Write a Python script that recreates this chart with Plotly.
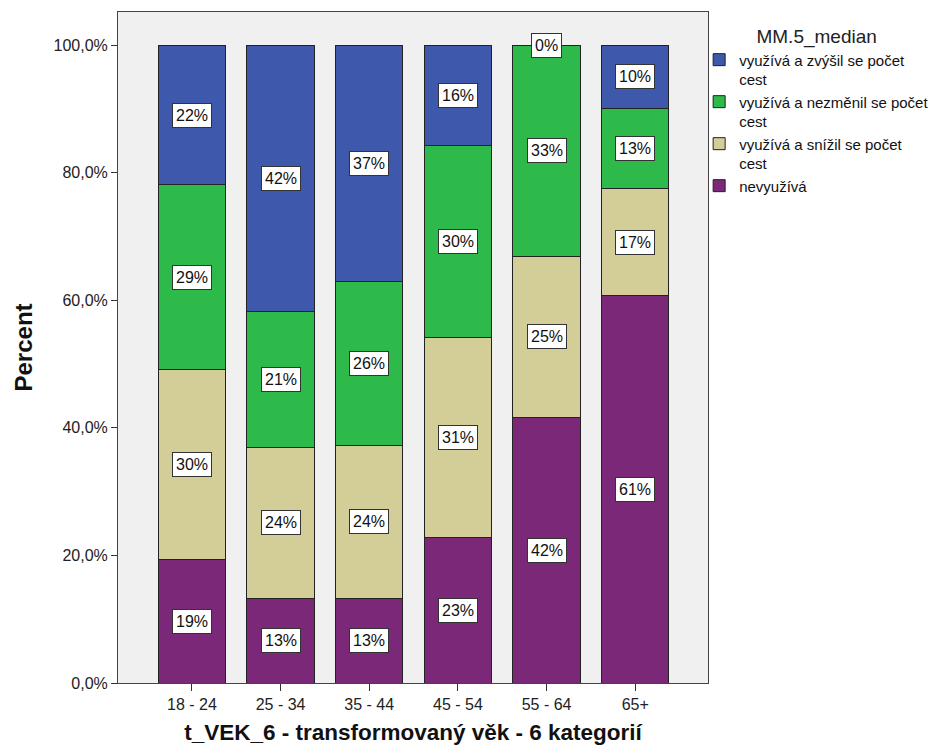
import plotly.graph_objects as go

# Age groups and percentage shares (each bar sums to 100 %)
categories = ["18 - 24", "25 - 34", "35 - 44", "45 - 54", "55 - 64", "65+"]

nevyuziva = [19.4, 13.3, 13.3, 22.8, 41.7, 60.7]
snizil = [29.8, 23.7, 23.9, 31.4, 25.2, 16.8]
nezmenil = [28.9, 21.3, 25.7, 30.1, 33.1, 12.6]
zvysil = [21.9, 41.7, 37.1, 15.7, 0.0, 9.9]

series_names = [
    "nevyužívá",
    "využívá a snížil se počet<br>cest",
    "využívá a nezměnil se počet<br>cest",
    "využívá a zvýšil se počet<br>cest",
]
series_values = [nevyuziva, snizil, nezmenil, zvysil]
series_colors = ["#7B2879", "#D3CE97", "#2EB94B", "#3E58AC"]

y_ticks = [0, 20, 40, 60, 80, 100]
y_ticktext = [f"{t:.1f}".replace(".", ",") + "%" for t in y_ticks]

fig = go.Figure()
for name, vals, col in zip(series_names, series_values, series_colors):
    fig.add_trace(go.Bar(
        x=categories, y=vals, name=name,
        marker=dict(color=col, line=dict(color="#222222", width=1)),
        hoverinfo="skip",
    ))

# Value labels centred on each stacked segment
annotations = []
base = [0.0] * len(categories)
for vals in series_values:
    for i, v in enumerate(vals):
        mid = base[i] + v / 2
        annotations.append(dict(
            x=categories[i], y=mid, xref="x", yref="y",
            text=f"{v:.0f}%", showarrow=False,
            font=dict(family="Arial, Liberation Sans", size=16, color="#111111"),
            bgcolor="white", bordercolor="#333333", borderwidth=1, borderpad=3,
        ))
        base[i] += v

fig.update_layout(
    width=946, height=753,
    margin=dict(l=118, r=233, t=12, b=70),
    paper_bgcolor="white", plot_bgcolor="#F0F0F0",
    barmode="stack", bargap=0.24,
    font=dict(family="Arial, Liberation Sans", size=16, color="#222222"),
    annotations=annotations,
    legend=dict(
        title=dict(text="MM.5_median", side="top center",
                   font=dict(size=19, color="#222222")),
        traceorder="reversed", valign="top",
        x=0.985, xanchor="left", y=0.99, yanchor="top",
        font=dict(size=15, color="#111111"),
        bgcolor="rgba(0,0,0,0)", tracegroupgap=0,
    ),
    xaxis=dict(
        range=[-0.834, 5.821], showline=True, linecolor="#444444", linewidth=1,
        mirror=True, ticks="outside", ticklen=7, tickcolor="#333333",
        tickfont=dict(size=16), showgrid=False,
        title=dict(text="<b>t_VEK_6 - transformovaný věk - 6 kategorií</b>",
                   font=dict(size=22.5, color="#111111"), standoff=12),
    ),
    yaxis=dict(
        range=[0, 105.2], showline=True, linecolor="#444444", linewidth=1,
        mirror=True, ticks="outside", ticklen=6, tickcolor="#333333",
        tickvals=y_ticks, ticktext=y_ticktext,
        tickfont=dict(size=16), showgrid=False, zeroline=False,
        title=dict(text="<b>Percent</b>", font=dict(size=24, color="#111111"),
                   standoff=14),
    ),
)

fig.write_html("out.html")
